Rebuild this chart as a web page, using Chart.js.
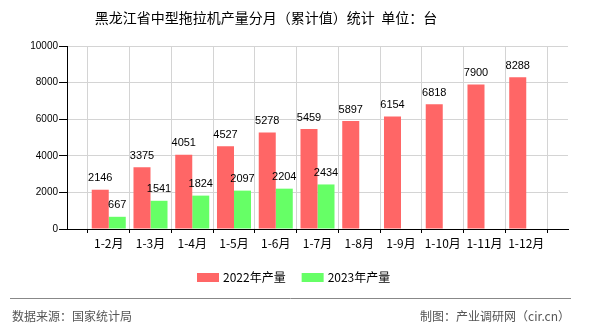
<!DOCTYPE html>
<html>
<head>
<meta charset="utf-8">
<script src="https://cdn.jsdelivr.net/npm/chart.js@4"></script>
<style>
  html, body { margin: 0; padding: 0; background: #fff; }
  #wrap { width: 590px; height: 330px; position: relative; }
</style>
</head>
<body>
<div id="wrap"><canvas id="chart" width="590" height="330"></canvas></div>
<script>
// data
const categories = ['1-2月', '1-3月', '1-4月', '1-5月', '1-6月', '1-7月', '1-8月', '1-9月', '1-10月', '1-11月', '1-12月'];
const output2022 = [2146, 3375, 4051, 4527, 5278, 5459, 5897, 6154, 6818, 7900, 8288];
const output2023 = [667, 1541, 1824, 2097, 2204, 2434];
const yTicks = [0, 2000, 4000, 6000, 8000, 10000];

const titleText = '黑龙江省中型拖拉机产量分月（累计值）统计  单位：台';
const sourceText = '数据来源：国家统计局';
const creditText = '制图：产业调研网（cir.cn）';

const cjk = '"Noto Sans CJK SC", "Noto Sans", sans-serif';
const num = '"Liberation Sans", Arial, sans-serif';

// one empty slot on each side of the categories, as in the picture
const labels = [''].concat(categories, ['']);
const pad = arr => {
  const out = [null].concat(arr);
  while (out.length < labels.length) out.push(null);
  return out;
};

// title, legend, footer and value labels
const decor = {
  id: 'decor',
  afterDatasetsDraw(chart) {
    const c = chart.ctx;
    c.save();
    c.fillStyle = '#000';
    c.font = '11px ' + num;
    c.textAlign = 'center';
    c.textBaseline = 'bottom';
    chart.data.datasets.forEach((ds, i) => {
      chart.getDatasetMeta(i).data.forEach((bar, j) => {
        const v = ds.data[j];
        if (v == null) return;
        c.fillText(String(v), bar.x, bar.y - 6);
      });
    });
    c.restore();
  },
  afterDraw(chart) {
    const c = chart.ctx;
    c.save();
    // title
    c.fillStyle = '#000';
    c.font = '14px ' + cjk;
    c.textAlign = 'center';
    c.textBaseline = 'middle';
    c.fillText(titleText, 266, 18);

    // legend
    c.font = '12px ' + cjk;
    c.textAlign = 'left';
    let x = 197;
    chart.data.datasets.forEach(ds => {
      c.fillStyle = ds.backgroundColor;
      c.fillRect(x, 273, 22, 9);
      c.fillStyle = '#000';
      c.fillText(ds.label, x + 26, 277);
      x += 26 + c.measureText(ds.label).width + 16;
    });

    // footer
    c.strokeStyle = '#888';
    c.lineWidth = 1;
    c.beginPath();
    c.moveTo(10, 298.5);
    c.lineTo(571, 298.5);
    c.stroke();
    c.fillStyle = '#555';
    c.font = '12px ' + cjk;
    c.textAlign = 'left';
    c.fillText(sourceText, 12, 316);
    c.textAlign = 'right';
    c.fillText(creditText, 570, 316);
    c.restore();
  }
};

new Chart(document.getElementById('chart'), {
  type: 'bar',
  data: {
    labels: labels,
    datasets: [
      { label: '2022年产量', data: pad(output2022), backgroundColor: '#ff6666' },
      { label: '2023年产量', data: pad(output2023), backgroundColor: '#66ff66' }
    ]
  },
  options: {
    responsive: false,
    animation: false,
    layout: { padding: { left: 0, right: 22, top: 46, bottom: 71 } },
    plugins: {
      legend: { display: false },
      title: { display: false },
      tooltip: { enabled: false }
    },
    datasets: { bar: { categoryPercentage: 0.815, barPercentage: 1 } },
    scales: {
      x: {
        offset: false,
        grid: { color: '#d4d4d4', tickColor: '#000', tickLength: 4, drawTicks: true },
        border: { color: '#000', width: 1 },
        ticks: { color: '#000', font: { size: 12, family: cjk }, padding: 3, maxRotation: 0, autoSkip: false },
        afterFit: s => { s.height = 30; }
      },
      y: {
        min: 0,
        max: 10000,
        afterBuildTicks: s => { s.ticks = yTicks.map(v => ({ value: v })); },
        grid: { color: '#d4d4d4', tickColor: '#000', tickLength: 8 },
        border: { color: '#000', width: 1 },
        ticks: { color: '#000', font: { size: 10, family: num }, padding: 1, callback: v => String(v) },
        afterFit: s => { s.width = 67; }
      }
    }
  },
  plugins: [decor]
});
</script>
</body>
</html>
